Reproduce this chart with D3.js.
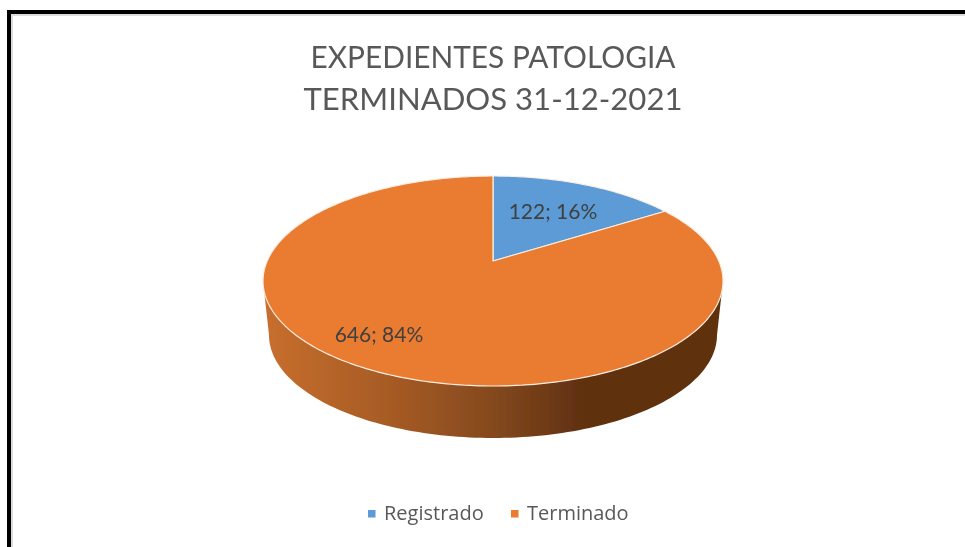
<!DOCTYPE html>
<html>
<head>
<meta charset="utf-8">
<script src="https://cdn.jsdelivr.net/npm/d3@7"></script>
<style>
html, body { margin: 0; padding: 0; background: #fff; }
svg { display: block; }
</style>
</head>
<body>
<div id="chart"></div>
<script>
var categories = ["Registrado", "Terminado"];
var values = [122, 646];
var colors = ["#5b9bd5", "#ea7b31"];
var titleLines = ["EXPEDIENTES PATOLOGIA", "TERMINADOS 31-12-2021"];

var width = 965;
var height = 547;

var svg = d3.select("#chart")
	.append("svg")
	.attr("width", width)
	.attr("height", height);

var defs = svg.append("defs");

// the reference is a slightly soft screenshot
defs.append("filter")
	.attr("id", "soft")
	.append("feGaussianBlur")
	.attr("stdDeviation", 0.4);

// frame of the screenshot
svg.append("path")
	.attr("d", "M9,547V12H965")
	.attr("fill", "none")
	.attr("stroke", "#000")
	.attr("stroke-width", 4);
svg.append("path")
	.attr("d", "M12,547V15H965")
	.attr("fill", "none")
	.attr("stroke", "#dcdcdc")
	.attr("stroke-width", 2);

var chart = svg.append("g").attr("filter", "url(#soft)");

// title
var titleWidths = [365, 379];
chart.append("g")
	.selectAll("text")
	.data(titleLines)
	.enter()
	.append("text")
	.attr("x", 493)
	.attr("y", function(d, i) { return 68 + i * 42; })
	.attr("text-anchor", "middle")
	.attr("font-family", "Lato")
	.attr("font-size", 30.5)
	.attr("textLength", function(d, i) { return titleWidths[i]; })
	.attr("lengthAdjust", "spacingAndGlyphs")
	.attr("fill", "#595959")
	.text(function(d) { return d; });

// pie seen in perspective: the centre sits above the middle of the ellipse
var cx = 493, cy = 281, rx = 230, ry = 105;
var k = -20 / ry;
var depth = 54, rxLow = 224, ryLow = 103;

var xScale = d3.scaleLinear().domain([-1, 1]).range([cx - rx, cx + rx]);
var yScale = d3.scaleLinear().domain([-1, 1]).range([cy - ry, cy + ry]);

function project(a, r) {
	var u = Math.sin(a) * r;
	var v = -Math.cos(a) * r;
	var w = 1 + k * v;
	return [
		xScale(Math.sqrt(1 - k * k) * u / w),
		yScale((v + k) / w)
	];
}

function slicePath(d) {
	var n = Math.max(8, Math.ceil((d.endAngle - d.startAngle) * 60));
	var pts = d3.range(n + 1).map(function(i) {
		return project(d.startAngle + (d.endAngle - d.startAngle) * i / n, 1);
	});
	return "M" + project(0, 0) + "L" + pts.join("L") + "Z";
}

var pie = d3.pie().sort(null).value(function(d) { return d; });
var arcs = pie(values);

var grad = defs.append("linearGradient")
	.attr("id", "side")
	.attr("gradientUnits", "userSpaceOnUse")
	.attr("x1", cx - rx).attr("x2", cx + rx)
	.attr("y1", 0).attr("y2", 0);
[[0, "#c86f2e"], [0.3, "#a35923"], [0.5, "#84491e"], [0.7, "#5f3010"], [1, "#5f3010"]].forEach(function(s) {
	grad.append("stop").attr("offset", s[0]).attr("stop-color", s[1]);
});

// side wall
var lower = d3.range(0, 121).map(function(i) {
	var t = Math.PI * i / 120;
	return [cx + rxLow * Math.cos(t), cy + depth + ryLow * Math.sin(t)];
});
chart.append("path")
	.attr("d", "M" + [cx + rx, cy] + "L" + lower.join("L") + "L" + [cx - rx, cy] + "Z")
	.attr("fill", "url(#side)");

// top face
chart.append("g")
	.selectAll("path")
	.data(arcs)
	.enter()
	.append("path")
	.attr("d", slicePath)
	.attr("fill", function(d, i) { return colors[i]; })
	.attr("stroke", "#fbeee4")
	.attr("stroke-width", 1.2)
	.attr("stroke-linejoin", "round");

// data labels
var total = d3.sum(values);
var labelPos = [[553, 212], [379, 335]];
chart.append("g")
	.selectAll("text")
	.data(values)
	.enter()
	.append("text")
	.attr("x", function(d, i) { return labelPos[i][0]; })
	.attr("y", function(d, i) { return labelPos[i][1] + 7; })
	.attr("text-anchor", "middle")
	.attr("font-family", "Lato")
	.attr("font-size", 21)
	.attr("fill", "#404040")
	.text(function(d) { return d + "; " + d3.format(".0%")(d / total); });

// legend
var legendX = [368, 511];
var legend = chart.append("g")
	.selectAll("g")
	.data(categories)
	.enter()
	.append("g")
	.attr("transform", function(d, i) { return "translate(" + legendX[i] + ",510)"; });
legend.append("rect")
	.attr("width", 7.5)
	.attr("height", 7.5)
	.attr("fill", function(d, i) { return colors[i]; });
legend.append("text")
	.attr("x", 16)
	.attr("y", 10)
	.attr("font-family", "Open Sans")
	.attr("font-size", 20)
	.attr("fill", "#595959")
	.text(function(d) { return d; });
</script>
</body>
</html>
